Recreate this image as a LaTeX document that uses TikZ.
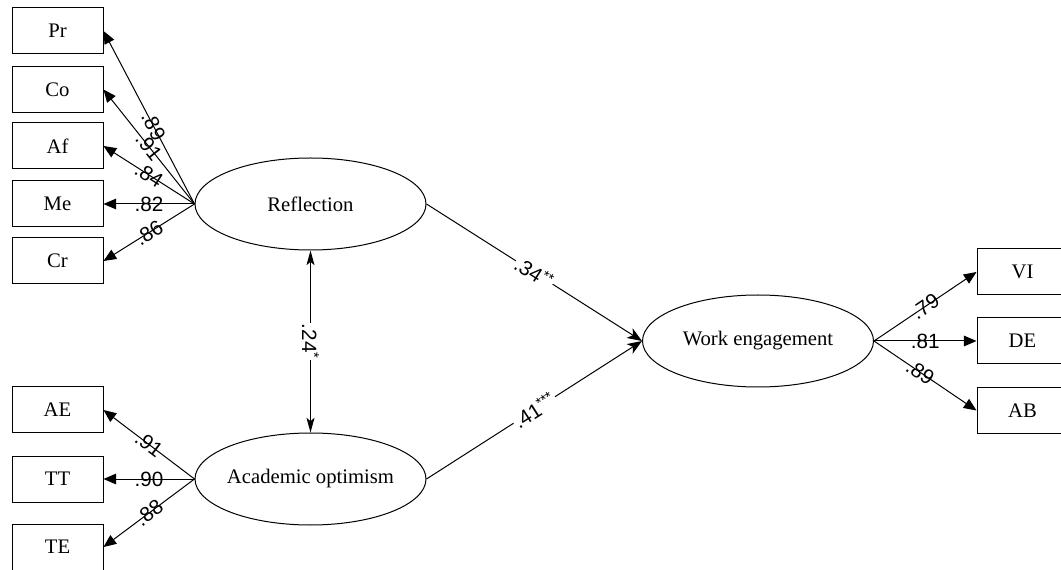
\documentclass[tikz,border=0pt]{standalone}
\usepackage{fontspec}
\setmainfont{Liberation Serif}
\newfontfamily\numfont{Liberation Sans}
\usetikzlibrary{shapes.geometric,arrows.meta}

\begin{document}
\begin{tikzpicture}[x=0.75pt,y=-0.75pt]
\tikzset{indicator/.style = {shape=rectangle,draw,line width=0.75pt,minimum width=68.25pt,minimum height=34.5pt,inner sep=0pt,font=\fontsize{15.5}{18}\selectfont}}
\tikzset{latent/.style = {shape=ellipse,draw,line width=0.75pt,minimum width=173.25pt,minimum height=69pt,inner ysep=0pt,inner xsep=-8pt,font=\fontsize{15.5}{18}\selectfont}}
\tikzset{loadarrow/.style = {-{Triangle[length=9.5pt,width=8pt]},line width=0.75pt}}
\tikzset{patharrow/.style = {-{Stealth[length=11pt,width=8.5pt,inset=3pt]},line width=0.75pt}}
\tikzset{covarrow/.style = {{Stealth[length=11pt,width=6pt,inset=2.5pt]}-{Stealth[length=11pt,width=6pt,inset=2.5pt]},line width=0.75pt}}
\tikzset{coef/.style = {midway,sloped,inner sep=1pt,font=\numfont\fontsize{15.5}{18}\selectfont}}
\tikzset{gapcoef/.style = {coef,fill=white}}
\useasboundingbox (0,0) rectangle (1061,570);
% indicators
\node[indicator] (pr) at (57.5,31) {Pr};
\node[indicator] (co) at (57.5,89.5) {Co};
\node[indicator] (af) at (57.5,146) {Af};
\node[indicator] (me) at (57.5,204) {Me};
\node[indicator] (cr) at (57.5,261) {Cr};
\node[indicator] (ae) at (57.5,410) {AE};
\node[indicator] (tt) at (57.5,479) {TT};
\node[indicator] (te) at (57.5,547) {TE};
\node[indicator] (vi) at (1022.5,272) {VI};
\node[indicator] (de) at (1022.5,341) {DE};
\node[indicator] (ab) at (1022.5,410.5) {AB};
% latent variables
\node[latent] (refl) at (310.5,204) {Reflection};
\node[latent] (ao) at (310.5,479) {Academic optimism};
\node[latent] (we) at (758,341) {Work engagement};
% loadings
\draw[loadarrow] (refl.west) -- node[coef,pos=0.45] {.89} (pr.east);
\draw[loadarrow] (refl.west) -- node[coef] {.91} (co.east);
\draw[loadarrow] (refl.west) -- node[coef] {.84} (af.east);
\draw[loadarrow] (refl.west) -- node[coef] {.82} (me.east);
\draw[loadarrow] (refl.west) -- node[coef] {.86} (cr.east);
\draw[loadarrow] (ao.west) -- node[coef] {.91} (ae.east);
\draw[loadarrow] (ao.west) -- node[coef] {.90} (tt.east);
\draw[loadarrow] (ao.west) -- node[coef] {.88} (te.east);
\draw[loadarrow] (we.east) -- node[coef] {.79} (vi.west);
\draw[loadarrow] (we.east) -- node[coef] {.81} (de.west);
\draw[loadarrow] (we.east) -- node[coef,pos=0.45] {.89} (ab.west);
% structural paths
\draw[patharrow] (refl.east) -- node[gapcoef] {.34\textsuperscript{**}} (we.west);
\draw[patharrow] (ao.east) -- node[gapcoef] {.41\textsuperscript{***}} (we.west);
\draw[covarrow] (refl.south) -- node[midway,rotate=-90,fill=white,inner sep=1pt,font=\numfont\fontsize{15.5}{18}\selectfont] {.24\textsuperscript{*}} (ao.north);
\end{tikzpicture}
\end{document}
